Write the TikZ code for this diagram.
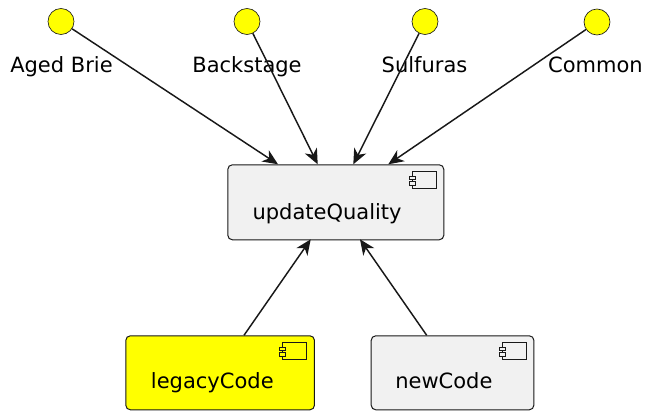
\documentclass[tikz,border=0pt]{standalone}
\usepackage{fontspec}
\setmainfont{DejaVu Sans}
\usetikzlibrary{arrows.meta,positioning}
\definecolor{fond}{HTML}{F1F1F1}
\definecolor{trait}{HTML}{181818}
\definecolor{jaune}{RGB}{255,255,0}
\tikzset{
	boite/.style={draw=trait, line width=0.75pt, rounded corners=3.4pt, anchor=north west, inner sep=0pt},
	rond/.style={circle, draw=trait, fill=jaune, line width=0.5pt, minimum size=19.5pt, inner sep=0pt},
	fleche/.style={draw=trait, line width=1.1pt, -{Stealth[length=11.5pt,width=10pt,inset=3.5pt]}},
	texte/.style={font=\fontsize{15.75}{19}\selectfont, inner sep=0pt},
}
% icone composant, #1 = boite, #2 = couleur de fond
\newcommand{\icone}[2]{
	\begin{scope}[shift={(#1.north east)}, draw=trait, line width=0.75pt]
		\draw (-32.3,7.4) rectangle (-8,23.7);
		\draw[fill=#2] (-35.3,11.7) rectangle (-29.3,15);
		\draw[fill=#2] (-35.3,17.4) rectangle (-29.3,20.7);
	\end{scope}
}

\begin{document}
\begin{tikzpicture}[x=0.75pt,y=-0.75pt]
		\useasboundingbox (0,0) rectangle (656,417);
		%ronds
		\node[rond] (brie) at (61,21.5) {};
		\node[rond] (backstage) at (247,21.5) {};
		\node[rond] (sulfuras) at (425,21.5) {};
		\node[rond] (common) at (597,22) {};
		\node[texte, anchor=base] (brieTexte) at (61.5,73) {Aged Brie};
		\node[texte, anchor=base] (backstageTexte) at (247,73) {Backstage};
		\node[texte, anchor=base] (sulfurasTexte) at (424.5,73) {Sulfuras};
		\node[texte, anchor=base] (commonTexte) at (595.5,73) {Common};
		%boites
		\node[boite, fill=fond, minimum width=162pt, minimum height=56.25pt] (uq) at (227.3,164.3) {};
		\node[boite, fill=jaune, minimum width=141.5pt, minimum height=55.5pt] (legacy) at (125.3,335.3) {};
		\node[boite, fill=fond, minimum width=122pt, minimum height=55.5pt] (new) at (370.7,335.3) {};
		\icone{uq}{fond}
		\icone{legacy}{jaune}
		\icone{new}{fond}
		\node[texte, anchor=base west] (uqTexte) at (252.3,219) {updateQuality};
		\node[texte, anchor=base west] (legacyTexte) at (150.7,388) {legacyCode};
		\node[texte, anchor=base west] (newTexte) at (395,388) {newCode};
		%points d'arrivee
		\coordinate (hautUq1) at (278,164.3);
		\coordinate (hautUq2) at (317.7,164.3);
		\coordinate (hautUq3) at (353.3,164.3);
		\coordinate (hautUq4) at (388.3,164.3);
		\coordinate (basUq1) at (310.7,239.3);
		\coordinate (basUq2) at (360,239.3);
		\coordinate (hautLegacy) at (244,335.3);
		\coordinate (hautNew) at (426.7,335.3);
		%fleches
		\draw[fleche] (brie) -- (hautUq1);
		\draw[fleche] (backstage) -- (hautUq2);
		\draw[fleche] (sulfuras) -- (hautUq3);
		\draw[fleche] (common) -- (hautUq4);
		\draw[fleche] (hautLegacy) -- (basUq1);
		\draw[fleche] (hautNew) -- (basUq2);
	\end{tikzpicture}
\end{document}
